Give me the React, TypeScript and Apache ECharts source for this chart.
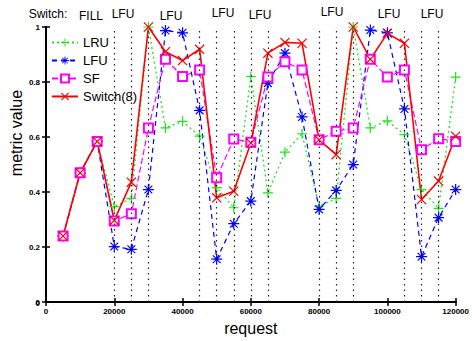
import React, { useEffect, useRef } from "react";
import * as echarts from "echarts";

const requests = [5000, 10000, 15000, 20000, 25000, 30000, 35000, 40000, 45000, 50000, 55000, 60000, 65000, 70000, 75000, 80000, 85000, 90000, 95000, 100000, 105000, 110000, 115000, 120000];
const lru = [0.24, 0.47, 0.584, 0.347, 0.377, 1.0, 0.633, 0.657, 0.603, 0.416, 0.343, 0.82, 0.397, 0.545, 0.612, 0.349, 0.377, 1.0, 0.633, 0.659, 0.609, 0.409, 0.341, 0.818];
const lfu = [0.24, 0.47, 0.584, 0.202, 0.192, 0.409, 0.987, 0.979, 0.697, 0.156, 0.285, 0.367, 0.796, 0.905, 0.673, 0.337, 0.406, 0.5, 0.989, 0.979, 0.702, 0.165, 0.307, 0.409];
const sf = [0.24, 0.47, 0.584, 0.295, 0.321, 0.633, 0.883, 0.82, 0.844, 0.452, 0.593, 0.581, 0.818, 0.874, 0.844, 0.59, 0.621, 0.633, 0.883, 0.818, 0.844, 0.554, 0.594, 0.584];
const sw8 = [0.24, 0.47, 0.584, 0.297, 0.436, 1.0, 0.91, 0.878, 0.919, 0.379, 0.403, 0.578, 0.905, 0.944, 0.941, 0.59, 0.536, 1.0, 0.883, 0.977, 0.941, 0.373, 0.44, 0.603];
const switchPoints = [20000, 25000, 30000, 45000, 50000, 55000, 60000, 65000, 80000, 85000, 90000, 105000, 110000, 115000];
const topLabels = ["Switch:", "FILL", "LFU", "LFU", "LFU", "LFU", "LFU", "LFU", "LFU"];
const topLabelX = [48, 91, 123, 171, 223, 260, 332, 389, 432];
const topLabelY = [13.5, 15.5, 13.5, 15.5, 13, 15, 12, 14, 14];

const PLUS = "path://M0,4.4H10V5.6H0Z M4.4,0H5.6V10H4.4Z";
const CROSS = "path://M0,0.85L0.85,0L10,9.15L9.15,10Z M9.15,0L10,0.85L0.85,10L0,9.15Z";
const STAR = "path://M0,4.45H10V5.55H0Z M4.45,0H5.55V10H4.45Z M1.1,1.85L1.85,1.1L8.9,8.15L8.15,8.9Z M8.15,1.1L8.9,1.85L1.85,8.9L1.1,8.15Z";

const toPairs = (ys: number[]) => requests.map((x, i) => [x, ys[i]]);

export default function App() {
  const ref = useRef<HTMLDivElement>(null);
  useEffect(() => {
    if (!ref.current) return;
    const chart = echarts.init(ref.current, undefined, { renderer: "svg" });
    const font = "Liberation Sans, Arial, Helvetica, sans-serif";
    const tickLabel = { fontFamily: font, fontSize: 8, fontWeight: "bold" as const, color: "#000", showMinLabel: true, showMaxLabel: true, hideOverlap: false };
    const axisLine = { show: true, lineStyle: { color: "#000", width: 2 } };
    const axisTick = { show: true, inside: true, length: 4, lineStyle: { color: "#000", width: 1.5 } };
    chart.setOption({
      animation: false,
      backgroundColor: "#fff",
      grid: { left: 46, right: 12, top: 27, bottom: 38 },
      xAxis: [
        {
          type: "value", min: 0, max: 120000, interval: 20000, position: "bottom",
          axisLine, axisTick, splitLine: { show: false },
          axisLabel: { ...tickLabel, margin: 5, formatter: (v: number) => String(v) },
          name: "request", nameLocation: "middle", nameGap: 17,
          nameTextStyle: { fontFamily: font, fontSize: 16, color: "#000" },
        },
        {
          type: "value", min: 0, max: 120000, interval: 20000, position: "top",
          axisLine, axisTick, splitLine: { show: false }, axisLabel: { show: false },
        },
      ],
      yAxis: [
        {
          type: "value", min: 0, max: 1, interval: 0.2, position: "left",
          axisLine, axisTick, splitLine: { show: false },
          axisLabel: { ...tickLabel, margin: 6, formatter: (v: number) => (v === 0 ? "0" : v === 1 ? "1" : v.toFixed(1)) },
        },
        {
          type: "value", min: 0, max: 1, interval: 0.2, position: "right",
          axisLine, axisTick, splitLine: { show: false }, axisLabel: { show: false },
        },
      ],
      legend: {
        orient: "vertical", left: 51, top: 36, itemWidth: 26, itemHeight: 10, itemGap: 5,
        padding: 0,
        textStyle: { fontFamily: font, fontSize: 13, color: "#000" },
        data: ["LRU", "LFU", "SF", "Switch(8)"],
      },
      series: [
        {
          name: "LRU", type: "line", data: toPairs(lru), symbol: PLUS, symbolSize: 10,
          lineStyle: { color: "#22e022", width: 1.3, type: [2, 3] },
          itemStyle: { color: "#22e022", borderWidth: 0 },
          markLine: {
            silent: true, symbol: ["none", "none"], label: { show: false },
            lineStyle: { color: "#222", width: 1.2, type: [1.5, 4] },
            data: switchPoints.map((x) => ({ xAxis: x })),
          },
        },
        {
          name: "LFU", type: "line", data: toPairs(lfu), symbol: STAR, symbolSize: 11,
          lineStyle: { color: "#0000ff", width: 1.2, type: [5, 4] },
          itemStyle: { color: "#0000ff", borderWidth: 0 },
        },
        {
          name: "SF", type: "line", data: toPairs(sf), symbol: "emptyRect", symbolSize: 9,
          lineStyle: { color: "#ff00ff", width: 1.2, type: [6, 3] },
          itemStyle: { color: "#ff00ff", borderColor: "#ff00ff", borderWidth: 1.2 },
        },
        {
          name: "Switch(8)", type: "line", data: toPairs(sw8), symbol: CROSS, symbolSize: 10,
          lineStyle: { color: "#ff0000", width: 1.6, type: "solid" },
          itemStyle: { color: "#ff0000", borderWidth: 0 },
        },
      ],
      graphic: [
        ...topLabels.map((t, i) => ({
          type: "text", x: topLabelX[i], y: topLabelY[i],
          style: { text: t, fontFamily: font, fontSize: 12, fill: "#000", align: "center", verticalAlign: "middle" },
        })),
        {
          type: "text", x: 40, y: 303,
          style: { text: "0", fontFamily: font, fontSize: 8, fontWeight: "bold", fill: "#000", align: "right", verticalAlign: "middle" },
        },
        {
          type: "text", x: 16, y: 133, rotation: Math.PI / 2,
          style: { text: "metric value", fontFamily: font, fontSize: 16, fill: "#000", align: "center", verticalAlign: "middle" },
        },
      ],
    });
    return () => chart.dispose();
  }, []);
  return <div ref={ref} style={{ width: 472, height: 341, position: "absolute", left: 0, top: 0 }} />;
}
